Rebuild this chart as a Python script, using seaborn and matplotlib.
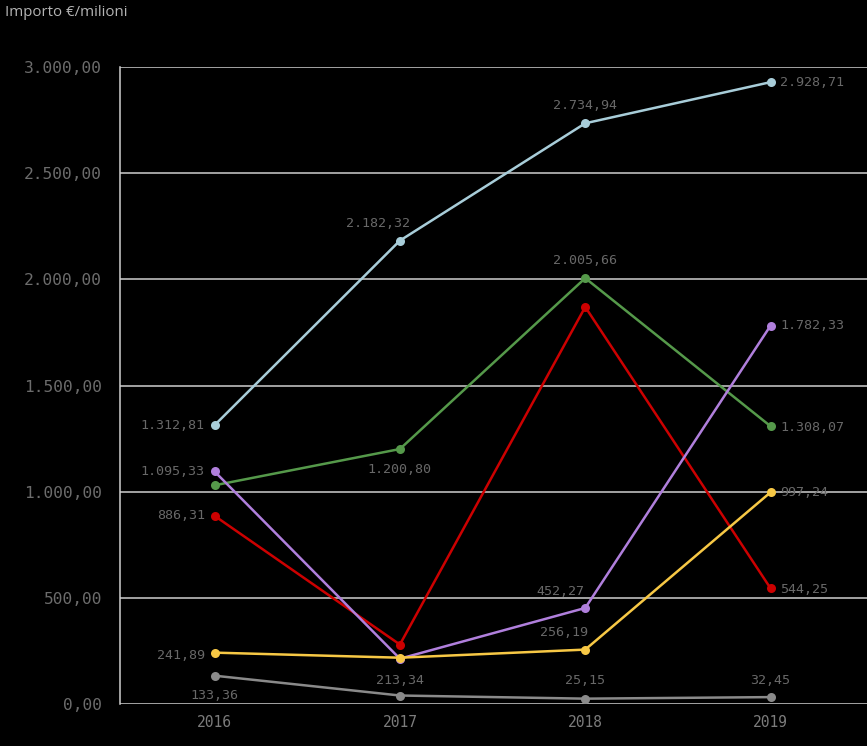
import pandas as pd
import seaborn as sns
import matplotlib.pyplot as plt

# years on x, amounts in million euro
anni = [2016, 2017, 2018, 2019]
serie = ["azzurro", "verde", "rosso", "viola", "giallo", "grigio"]
azzurro = [1312.81, 2182.32, 2734.94, 2928.71]
verde = [1030.00, 1200.80, 2005.66, 1308.07]
rosso = [886.31, 280.00, 1870.00, 544.25]
viola = [1095.33, 213.34, 452.27, 1782.33]
giallo = [241.89, 218.00, 256.19, 997.24]
grigio = [133.36, 40.00, 25.15, 32.45]
valori = [azzurro, verde, rosso, viola, giallo, grigio]

colori = {"azzurro": "#a8cdd9", "verde": "#55994a", "rosso": "#cc0000",
          "viola": "#b07fdc", "giallo": "#f7c845", "grigio": "#8a8a8a"}

# label offsets in points (dx, dy, ha); None = no label on that point
posizioni = {
    "azzurro": [(-7, 0, "right"), (-16, 12, "center"), (0, 13, "center"), (7, 0, "left")],
    "verde": [None, (0, -15, "center"), (0, 13, "center"), (7, -1, "left")],
    "rosso": [(-7, 0, "right"), None, None, (7, -1, "left")],
    "viola": [(-7, 0, "right"), (0, -16, "center"), (-18, 12, "center"), (7, 0, "left")],
    "giallo": [(-7, -2, "right"), None, (-15, 12, "center"), (7, 0, "left")],
    "grigio": [(0, -14, "center"), None, (0, 13, "center"), (0, 12, "center")],
}

rows = []
for nome, vals in zip(serie, valori):
    for a, v in zip(anni, vals):
        rows.append({"anno": a, "importo": v, "serie": nome})
df = pd.DataFrame(rows)

def fmt_it(v):
    return f"{v:,.2f}".replace(",", "X").replace(".", ",").replace("X", ".")

sns.set_style("dark", {"axes.facecolor": "black", "figure.facecolor": "black"})
plt.rcParams["font.family"] = ["DejaVu Sans Mono"]

fig = plt.figure(figsize=(8.67, 7.46), dpi=100)
ax = fig.add_axes([120 / 867, 1 - 704 / 746, 1 - 120 / 867, (704 - 67) / 746])
ax.set_facecolor("black")

sns.lineplot(data=df, x="anno", y="importo", hue="serie", hue_order=serie,
             palette=colori, marker="o", markersize=6.5, markeredgewidth=0,
             linewidth=1.8, legend=False, ax=ax, zorder=3)

for nome, vals in zip(serie, valori):
    for i, (a, v) in enumerate(zip(anni, vals)):
        if posizioni[nome][i] is None:
            continue
        dx, dy, ha = posizioni[nome][i]
        ax.annotate(fmt_it(v), (a, v), xytext=(dx, dy), textcoords="offset points",
                    ha=ha, va="center", fontsize=9.6, color="#686868", zorder=4)

ax.set_xlim(2015.49, 2019.52)
ax.set_ylim(0, 3000)
ax.set_yticks([0, 500, 1000, 1500, 2000, 2500, 3000])
ax.set_yticklabels([fmt_it(t) for t in ax.get_yticks()])
ax.set_xticks(anni)
ax.set_xticklabels([str(a) for a in anni])
ax.set_xlabel("")
ax.set_ylabel("")

ax.grid(False)
ax.yaxis.grid(True, color="#cfcfcf", linewidth=1.1)
for s in ["top", "right", "bottom"]:
    ax.spines[s].set_visible(False)
ax.spines["left"].set_visible(True)
ax.spines["left"].set_color("#cfcfcf")
ax.spines["left"].set_linewidth(1.1)
ax.tick_params(axis="y", length=6, width=1.1, color="#cfcfcf", labelcolor="#6c6c6c",
               labelsize=11.7, pad=7)
ax.tick_params(axis="x", length=0, labelcolor="#7c7c7c", labelsize=10.5, pad=8)

fig.text(5 / 867, 1 - 12 / 746, "Importo €/milioni", color="#b4b4b4", fontsize=10.8,
         family=["Open Sans", "DejaVu Sans"], ha="left", va="center")

fig.savefig("out.png", dpi=100, facecolor="black")
